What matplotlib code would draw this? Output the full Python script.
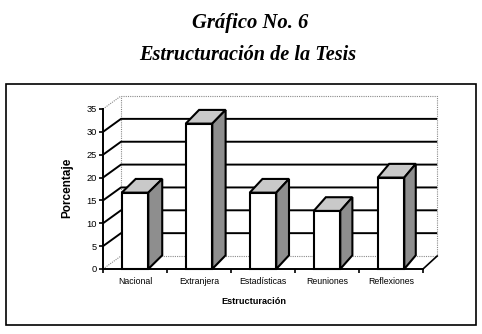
import matplotlib
matplotlib.use("Agg")
import matplotlib.pyplot as plt
from matplotlib.patches import Polygon, Rectangle

# Data
categories = ["Nacional", "Extranjera", "Estadísticas", "Reuniones", "Reflexiones"]
values = [16.7, 31.8, 16.7, 12.7, 20.0]
y_ticks = [0, 5, 10, 15, 20, 25, 30, 35]

W, H = 482, 334
fig = plt.figure(figsize=(W / 100, H / 100), dpi=100)
fig.patch.set_facecolor("white")

# Front plane of the pseudo-3D chart
ax = fig.add_axes([103 / W, (H - 269) / H, 320 / W, 160 / H])
n = len(categories)
ymax = y_ticks[-1]
ax.set_xlim(0, n)
ax.set_ylim(0, ymax)
ax.set_facecolor("none")

# Projection of the front plane onto the back wall (slight perspective)
DX0, DXS, DY = 0.281, 0.988, 2.84


def back(x, y):
    return DX0 + DXS * x, y + DY


dotted = dict(color="#8a8a8a", lw=0.8, ls=(0, (1, 1)), clip_on=False, zorder=1)
grid = dict(color="black", lw=1.4, clip_on=False, zorder=1.5, solid_capstyle="butt")

# Back wall border
bx0, by0 = back(0, 0)
bx1, by1 = back(n, ymax)
ax.plot([bx0, bx1, bx1, bx0, bx0], [by0, by0, by1, by1, by0], **dotted)
# Left wall edges
ax.plot([0, bx0], [ymax, by1], **dotted)
ax.plot([0, bx0], [0, by0], **dotted)
# Right floor edge
rx, ry = back(n, 0)
ax.plot([n, rx], [0, ry], color="black", lw=1.2, clip_on=False, zorder=1.5)

# Gridlines across left wall and back wall
for v in y_ticks[1:-1]:
    lx, ly = back(0, v)
    rx2, _ = back(n, v)
    ax.plot([0, lx, rx2], [v, ly, ly], **grid)

# Bars
bw = 0.415
bar_dy = 3.0
for i, v in enumerate(values):
    x0 = i + 0.5 - bw / 2
    x1 = i + 0.5 + bw / 2
    dx = 0.8 * (back(x1, 0)[0] - x1)
    top = Polygon([(x0, v), (x1, v), (x1 + dx, v + bar_dy), (x0 + dx, v + bar_dy)],
                  closed=True, facecolor="#c9c9c9", edgecolor="black", lw=1.5,
                  clip_on=False, zorder=3 + i)
    side = Polygon([(x1, 0), (x1 + dx, bar_dy), (x1 + dx, v + bar_dy), (x1, v)],
                   closed=True, facecolor="#8e8e8e", edgecolor="black", lw=1.5,
                   clip_on=False, zorder=3 + i)
    front = Rectangle((x0, 0), bw, v, facecolor="white", edgecolor="black",
                      lw=1.5, clip_on=False, zorder=3 + i)
    ax.add_patch(top)
    ax.add_patch(side)
    ax.add_patch(front)

# Axes
for s in ("top", "right"):
    ax.spines[s].set_visible(False)
for s in ("left", "bottom"):
    ax.spines[s].set_linewidth(1.4)
    ax.spines[s].set_zorder(10)

ax.set_yticks(y_ticks)
ax.tick_params(axis="y", direction="out", length=3, width=1.2, pad=1.5,
               labelsize=6.7)
ax.set_xticks(range(n + 1))
ax.set_xticklabels([])
ax.set_xticks([i + 0.5 for i in range(n)], minor=True)
ax.set_xticklabels(categories, minor=True)
ax.tick_params(axis="x", which="major", direction="out", length=3, width=1.2)
ax.tick_params(axis="x", which="minor", length=0, pad=6, labelsize=6.3)
for lbl in ax.get_yticklabels() + ax.get_xticklabels(minor=True):
    lbl.set_family("Liberation Sans")

ax.set_ylabel("Porcentaje", fontsize=8.5, fontweight="bold", family="Liberation Sans")
ax.yaxis.set_label_coords(-0.094, 0.506)
ax.set_xlabel("Estructuración", fontsize=6.6, fontweight="bold", family="Liberation Sans")
ax.xaxis.set_label_coords(0.472, -0.172)

# Outer frame
fig.patches.append(Rectangle((6 / W, 1 - 325 / H), 470 / W, 241 / H,
                             transform=fig.transFigure, fill=False,
                             edgecolor="black", lw=1.2))

# Titles
fig.text(250.5 / W, 1 - 23 / H, "Gráfico No. 6", ha="center", va="center",
         fontsize=14.9, fontweight="bold", style="italic", family="Liberation Serif")
fig.text(247.5 / W, 1 - 55 / H, "Estructuración de la Tesis", ha="center", va="center",
         fontsize=14.6, fontweight="bold", style="italic", family="Liberation Serif")

fig.savefig("out.png", dpi=100)
